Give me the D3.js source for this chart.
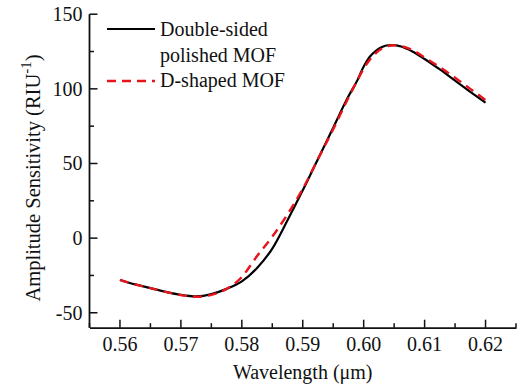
<!DOCTYPE html>
<html><head><meta charset="utf-8">
<script src="https://cdn.jsdelivr.net/npm/d3@7/dist/d3.min.js"></script>
<style>body{margin:0;background:#fff}svg{display:block}text{font-family:"Liberation Serif","Times New Roman",serif;fill:#111}</style>
</head><body><svg id="c" width="519" height="390"></svg>
<script>
const wavelength = [0.560,0.5625,0.565,0.5675,0.570,0.5725,0.575,0.5775,0.580,0.5825,0.585,0.5875,0.590,0.5925,0.595,0.5975,0.599,0.600,0.601,0.602,0.603,0.604,0.605,0.606,0.608,0.610,0.6125,0.615,0.6175,0.620];
const doubleSided = [-28,-31,-33.5,-36,-38,-39,-37.5,-34,-29,-20,-7,12,32,53,74,95,106,115,121.5,125.5,128,129.2,129.3,128.5,125,120,113,105.5,98,90.7];
const dShaped     = [-28,-31,-33.5,-36,-38.2,-39.3,-38,-34,-26,-12,1,16,33,53,73,94,106,113.5,119.5,124,127,128.7,129.2,128.8,126,121,114.5,107.5,100,92.5];
const xTicks = [0.56,0.57,0.58,0.59,0.60,0.61,0.62];
const yTicks = [-50,0,50,100,150];
const seriesNames = ["Double-sided polished MOF","D-shaped MOF"];

const svg = d3.select("#c");
const x = d3.scaleLinear().domain([0.555,0.625]).range([89.5,516]);
const y = d3.scaleLinear().domain([-60,150]).range([327.7,14.2]);

// axes
const xAxis = svg.append("g").attr("transform","translate(0,"+y(-60)+")");
xAxis.call(d3.axisBottom(x).tickValues(d3.range(0.555,0.6251,0.005)).tickSize(0).tickFormat(""));
xAxis.select(".domain").attr("stroke","#111").attr("stroke-width",1.8);
xAxis.selectAll(".minor").data(d3.range(0,15)).enter().append("line")
  .attr("x1",i=>x(0.555+i*0.005)).attr("x2",i=>x(0.555+i*0.005))
  .attr("y1",0).attr("y2",i=>(i%2===1)?-8:-4.5).attr("stroke","#111").attr("stroke-width",1.5);
xAxis.selectAll(".lab").data(xTicks).enter().append("text")
  .attr("x",d=>x(d)).attr("y",23.5).attr("text-anchor","middle").attr("font-size",20)
  .text(d=>d.toFixed(2));

const yAxis = svg.append("g").attr("transform","translate("+x(0.555)+",0)");
yAxis.append("line").attr("x1",0).attr("x2",0).attr("y1",y(150)).attr("y2",y(-60)).attr("stroke","#111").attr("stroke-width",1.8);
yAxis.selectAll(".mt").data(d3.range(-50,151,25)).enter().append("line")
  .attr("x1",0).attr("x2",d=>(d%50===0)?8:4.5).attr("y1",d=>y(d)).attr("y2",d=>y(d))
  .attr("stroke","#111").attr("stroke-width",1.5);
yAxis.selectAll(".lab").data(yTicks).enter().append("text")
  .attr("x",-7).attr("y",d=>y(d)+7).attr("text-anchor","end").attr("font-size",20)
  .text(d=>d);

// titles
svg.append("text").attr("x",302.7).attr("y",379).attr("text-anchor","middle").attr("font-size",20)
  .text("Wavelength (μm)");
const yt = svg.append("text").attr("transform","translate(39.5,"+178+") rotate(-90)")
  .attr("text-anchor","middle").attr("font-size",20.5);
yt.append("tspan").text("Amplitude Sensitivity (RIU");
yt.append("tspan").attr("dy",-9).attr("font-size",15).text("-1");
yt.append("tspan").attr("dy",9).text(")");

// lines
const line = d3.line().x(d=>x(d[0])).y(d=>y(d[1])).curve(d3.curveMonotoneX);
svg.append("path").datum(wavelength.map((w,i)=>[w,doubleSided[i]]))
  .attr("d",line).attr("fill","none").attr("stroke","#000").attr("stroke-width",2.2);
svg.append("path").datum(wavelength.map((w,i)=>[w,dShaped[i]]))
  .attr("d",line).attr("fill","none").attr("stroke","#e8141b").attr("stroke-width",2.4)
  .attr("stroke-dasharray","9,6");

// legend
const lg = svg.append("g");
lg.append("line").attr("x1",107).attr("x2",155).attr("y1",29).attr("y2",29).attr("stroke","#000").attr("stroke-width",2.2);
lg.append("text").attr("x",160).attr("y",36).attr("font-size",20).text("Double-sided");
lg.append("text").attr("x",160).attr("y",62).attr("font-size",20).text("polished MOF");
lg.append("line").attr("x1",107).attr("x2",155).attr("y1",81).attr("y2",81).attr("stroke","#e8141b").attr("stroke-width",2.4).attr("stroke-dasharray","9,6");
lg.append("text").attr("x",160).attr("y",87).attr("font-size",20).text("D-shaped MOF");
</script></body></html>
